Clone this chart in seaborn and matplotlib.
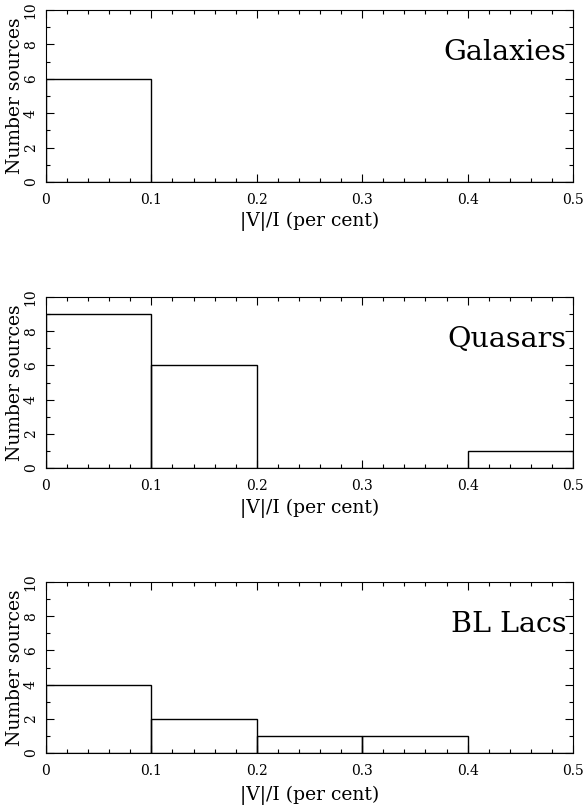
import numpy as np
import matplotlib
matplotlib.use("Agg")
import matplotlib.pyplot as plt
import seaborn as sns
from matplotlib.ticker import MultipleLocator

sns.set_theme(style="ticks")
plt.rcParams['font.family'] = ['DejaVu Serif']

bin_edges = [0.0, 0.1, 0.2, 0.3, 0.4, 0.5]
panel_names = ["Galaxies", "Quasars", "BL Lacs"]
galaxies_counts = [6, 0, 0, 0, 0]
quasars_counts = [9, 6, 0, 0, 1]
bllacs_counts = [4, 2, 1, 1, 0]
x_label = "|V|/I (per cent)"
y_label = "Number sources"

counts_all = [galaxies_counts, quasars_counts, bllacs_counts]

fig = plt.figure(figsize=(5.84, 8.08), dpi=100)
W, H = 584, 808
left_px, right_px = 46, 573
panel_px = [(10, 182), (297, 468), (582, 753)]
xlabel_px = [221, 508, 795]

centers = [(bin_edges[i] + bin_edges[i + 1]) / 2 for i in range(len(bin_edges) - 1)]

for name, counts, (top, bot), xl in zip(panel_names, counts_all, panel_px, xlabel_px):
    h = bot - top
    ax = fig.add_axes([left_px / W, 1 - bot / H, (right_px - left_px) / W, h / H])
    sns.histplot(x=centers, weights=counts, bins=bin_edges, fill=False,
                 element="bars", color="black", linewidth=1.0, ax=ax)
    ax.set_xlim(0, 0.5)
    ax.set_ylim(0, 10)
    ax.xaxis.set_minor_locator(MultipleLocator(0.02))
    ax.yaxis.set_major_locator(MultipleLocator(2))
    ax.yaxis.set_minor_locator(MultipleLocator(1))
    ax.set_xticks([0, 0.1, 0.2, 0.3, 0.4, 0.5])
    ax.set_xticklabels(["0", "0.1", "0.2", "0.3", "0.4", "0.5"])
    ax.tick_params(which="both", direction="in", top=True, right=True,
                   color="black", width=0.8, labelsize=10, labelcolor="black")
    ax.tick_params(axis="x", which="major", pad=8)
    ax.tick_params(axis="y", which="major", pad=6)
    ax.tick_params(which="major", length=6)
    ax.tick_params(which="minor", length=3)
    for lab in ax.get_yticklabels():
        lab.set_rotation(90)
        lab.set_va("center")
    for sp in ax.spines.values():
        sp.set_color("black")
        sp.set_linewidth(0.8)
    ax.set_xlabel(x_label, fontsize=13.5, color="black")
    ax.set_ylabel(y_label, fontsize=13.5, color="black")
    ax.xaxis.set_label_coords(0.5, -(xl - bot) / h)
    ax.xaxis.label.set_va("center")
    ax.yaxis.set_label_coords(-(46 - 24) / 527, 0.5)
    ax.text(0.494, 7.5, name, ha="right", va="center", fontsize=20.5,
            color="black", transform=ax.transData)

fig.savefig("out.png", dpi=100)
